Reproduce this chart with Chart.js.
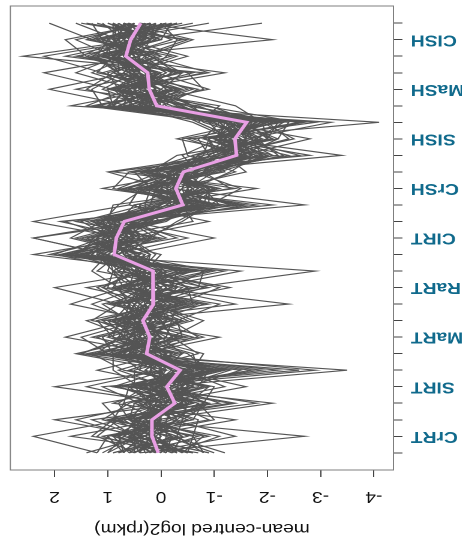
<!DOCTYPE html>
<html>
<head>
<meta charset="utf-8">
<script src="https://cdn.jsdelivr.net/npm/chart.js@4/dist/chart.umd.min.js"></script>
<style>
  html, body { margin: 0; padding: 0; background: #fff; overflow: hidden; }
  #wrap {
    position: absolute; left: 38.5px; top: 0;
    width: 385px; height: 540px;
    /* the reference is drawn upside down and a little stretched sideways */
    transform: scale(-1.2, -1);
    transform-origin: center center;
  }
</style>
</head>
<body>
<div id="wrap"><canvas id="geneChart" width="385" height="540"></canvas></div>
<script>
// tissues, three samples each (27 points per profile)
const tissues = ['CrRT', 'SIRT', 'MaRT', 'RaRT', 'CIRT', 'CrSH', 'SISH', 'MaSH', 'CISH'];
const valueTicks = [-4, -3, -2, -1, 0, 1, 2];

// mean profile (pink)
const meanProfile = [0.05, 0.17, 0.17, -0.26, -0.11, -0.36, 0.27, 0.21, 0.34, 0.14, 0.15, 0.15, 0.88, 0.84, 0.69,
    -0.41, -0.28, -0.42, -1.42, -1.39, -1.61, 0.08, 0.22, 0.25, 0.66, 0.57, 0.38];

// individual gene profiles (grey)
const g01 = [0.5, 1.2, 0.8, -0.6, 0.3, -1.2, 1.1, 0.4, 0.9, -0.2, 0.6, -0.5, 1.6, 1.2, 0.9, -1.1, 0.2, -0.8, -2.3, -1.7, -2.6, 0.9, 0.4, 0.8, 1.3, 0.7, 1.1];
const g02 = [-0.4, -0.8, 0.3, 0.2, -0.6, 0.1, 0.8, -0.3, 0.6, 0.5, -0.2, 0.7, 0.4, 1.5, 0.2, 0.3, -0.9, -0.2, -0.8, -2.1, -1.2, -0.5, 0.9, -0.3, 0.2, 1.3, -0.1];
const g03 = [1.0, 0.4, 1.3, -1.1, -0.2, -0.9, 0.5, 1.2, -0.2, 0.9, 0.3, -0.6, 1.9, 0.6, 1.4, -0.2, -1.1, 0.3, -1.9, -0.8, -2.2, 0.4, -0.4, 1.2, 0.9, 1.6, 0.2];
const g04 = [-0.9, 0.6, -0.5, 0.4, 1.1, -2.6, 1.5, 0.7, 0.1, -0.8, 1.0, 0.9, 1.2, -0.1, 0.6, -1.8, 0.5, -1.2, -0.9, -1.5, -1.0, 1.4, 0.6, -0.6, 1.8, 0.3, 0.9];
const g05 = [0.3, -1.4, -0.2, -0.8, -1.0, 0.6, -0.4, 0.9, 1.2, -0.3, -1.1, 0.4, 2.0, 1.1, 0.3, 0.4, -0.2, -1.6, -1.2, -2.4, -2.0, 0.2, 1.1, 0.5, 0.4, -0.5, 1.4];
const g06 = [1.2, 2.4, 0.7, -1.8, 0.2, -0.3, 0.2, -0.6, 0.5, 1.3, 0.4, -1.0, 0.7, 0.9, 1.8, -0.8, 0.9, 0.6, -2.8, -1.0, -1.9, -0.6, 0.2, 0.9, 0.1, 1.1, -0.4];
const g07 = [-1.2, -0.2, 1.1, 0.6, -0.5, -1.5, 1.4, -0.2, -0.8, 0.2, 0.8, 1.3, 1.0, 2.4, 0.5, -0.1, -0.7, 0.1, -1.6, -0.6, -2.9, 0.7, -0.9, 0.1, 1.0, 0.2, 0.8];
const g08 = [0.6, 0.9, -0.9, -0.2, 0.8, -0.7, -0.6, 0.5, 1.1, -1.4, 0.1, 0.6, 1.4, 0.3, -0.4, -0.9, -1.5, -0.6, -1.1, -1.9, -1.3, 1.1, 1.3, 0.7, 0.5, 0.9, -0.3];
const g09 = [-0.3, 0.1, 0.5, -1.4, 0.4, 0.9, 0.9, 1.1, 0.3, 0.7, -0.6, -2.9, 1.7, 0.8, 1.1, 0.8, 0.3, -0.3, -2.0, -1.2, -0.9, 0.3, 0.5, 1.6, 0.8, -0.2, 0.6];
const g10 = [0.8, -0.5, 0.2, 0.1, -1.6, -0.2, 0.4, -1.1, 0.9, 0.6, 1.2, 0.3, 0.2, 1.0, 1.2, -1.4, 0.1, -0.9, -0.6, -2.2, -2.4, 0.8, -0.2, 0.4, 1.5, 0.8, 1.6];
const g11 = [-0.7, 1.3, 0.9, 0.7, 0.6, -1.1, 0.7, 0.3, -0.4, 0.4, 0.9, -0.2, 2.4, 0.5, 0.8, -0.3, -0.6, -1.3, -1.8, -0.3, -1.7, -0.2, 0.7, -0.8, 2.6, 0.4, 0.1];
const g12 = [0.2, -0.3, -0.4, -0.5, 0.1, -3.5, 1.2, 0.1, 0.7, -0.5, 0.5, 1.0, 0.9, -0.5, 0.9, -2.7, -0.2, 0.4, -1.3, -1.6, -3.2, 1.7, 0.1, 0.2, 0.3, -0.6, 0.7];
const g13 = [1.1, 0.5, 1.6, 0.2, -0.8, 0.3, -0.2, 1.0, -0.1, 0.9, -0.9, 0.8, 1.1, 1.3, -0.1, -0.6, -1.0, -0.1, -2.6, -1.4, -0.7, -1.1, 0.8, 1.0, -0.2, 1.4, 0.5];
const g14 = [-0.5, 0.7, 0.1, -2.1, 0.7, -0.5, 1.5, 0.6, 1.4, -0.1, 0.3, -0.4, 0.5, 0.7, 2.4, 0.6, 0.4, -0.7, -0.4, -1.1, -2.1, 0.5, -0.5, 0.3, 0.7, 0.9, -0.9];
const g15 = [0.4, -2.7, 0.6, 0.8, 0.3, -0.8, 0.6, -0.8, 0.2, 1.7, 0.7, 0.2, 1.5, -0.3, 0.6, 0.1, -1.8, 0.9, -1.5, -2.8, -1.1, 0.1, 0.6, -1.2, 1.1, 0.1, 1.2];
const g16 = [-0.1, 0.3, 2.0, -0.4, -0.3, 1.2, -0.1, 0.8, 0.6, 0.3, -1.3, 0.5, 0.3, 1.6, 0.4, -1.0, 0.7, -0.4, -0.8, -0.9, -2.7, 0.6, 2.1, 0.6, 0.6, 0.5, 0.3];
const g17 = [1.2, 1.0, -0.1, -0.9, 0.9, -2.2, 1.0, 1.5, 0.4, -0.7, 0.6, -0.9, 1.8, 0.2, 1.0, -2.1, 0.6, -0.2, -1.9, -1.7, -1.4, 1.3, -0.3, 0.8, 1.2, 1.0, -0.6];
const g18 = [-0.8, -0.6, -0.7, 0.3, -0.4, 0.4, 0.3, -0.4, 1.3, 0.8, 2.0, 0.1, 0.6, 1.1, -0.6, -0.4, -0.5, -1.0, -0.7, -1.3, -1.8, -0.9, 0.9, 2.2, 0.4, 0.2, 1.0];
const g19 = [0.7, 0.8, 0.4, -0.2, 2.0, -0.1, 1.6, 0.2, 0.8, -2.4, 0.2, 0.6, 1.3, 0.9, 1.5, 0.3, 0.2, 0.5, -2.2, -1.8, -0.8, -0.4, 0.4, 0.6, -0.5, 0.7, 0.6];
const g20 = [-1.0, -0.1, 0.8, 1.1, -0.7, -0.9, -0.5, 0.6, -0.6, 0.1, -0.4, 1.2, 0.8, 1.4, 0.1, -1.3, -0.3, -0.5, -0.9, -0.7, -1.5, 0.9, 1.0, 0.0, 1.4, 1.8, 0.2];
const g21 = [0.2, 0.6, -1.0, -0.7, 0.5, -1.9, 0.9, -0.1, 0.5, 0.6, 0.1, -1.5, 1.9, 0.4, 1.3, -0.7, 0.8, 0.0, -3.4, -1.1, -1.2, 0.4, -0.6, 0.5, 0.9, -0.4, 1.5];
const g22 = [0.9, -0.4, 0.3, -0.6, -0.1, 0.8, -0.3, 1.3, 0.0, 0.5, 1.1, 0.4, 0.1, 0.6, 0.8, 0.5, -1.3, -0.8, -1.0, -2.0, -1.6, -0.3, 0.3, 1.3, 0.6, 1.2, -0.2];
const g23 = [-0.6, 1.7, 0.0, 0.4, -1.2, -0.4, 1.2, -0.5, 1.0, -0.9, 0.7, 0.9, 1.0, 2.4, 0.2, -1.6, 0.3, -1.1, -1.4, -0.5, -4.1, 1.0, 0.0, -0.4, 1.6, 0.0, 0.7];
const g24 = [0.4, 0.2, 0.7, -1.3, 0.6, -2.9, 0.5, 0.8, -0.5, 0.2, -0.8, 0.1, 1.6, 0.0, 1.6, -0.2, -0.8, 0.2, -1.7, -1.5, -1.1, 0.2, 1.4, 0.9, 0.0, 0.6, 0.9];
const g25 = [-0.2, 0.4, -1.4, 0.9, 0.0, 0.2, 0.1, 1.8, 0.6, 1.1, -0.2, -0.3, 0.7, 0.2, -0.3, -0.9, -0.1, 1.0, -1.1, -2.5, -1.9, -1.4, -0.1, 0.2, 1.1, -2.1, 0.4];
const g26 = [0.6, -0.9, 0.5, -0.1, 0.8, -0.6, -0.8, 0.4, 1.2, 0.0, 1.4, -0.7, 2.1, 0.8, 0.5, 0.2, 0.1, -0.3, -1.6, -1.3, -0.6, 0.6, 0.5, -0.1, 0.3, 1.3, 2.1];
const g27 = [-0.4, 0.1, 0.9, -0.5, -0.9, 0.7, 1.3, -0.7, -0.2, 0.4, 0.5, 0.8, 0.4, 1.7, 1.1, -0.5, -0.4, -1.4, -0.5, -0.4, -2.3, 0.0, -0.7, 0.8, 0.8, 0.4, -1.9];
const g28 = [1.4, 0.3, -0.3, 0.5, -0.3, -1.3, 0.6, 0.0, 0.3, -0.6, -0.5, 0.0, 1.2, 0.5, 1.9, -1.2, 1.1, -0.6, -2.4, -1.0, -1.3, 0.5, 0.8, 0.4, 0.6, 0.8, 0.5];
const g29 = [-0.2, -1.1, 0.6, 0.0, 1.4, 0.0, 0.2, 0.9, 0.8, 0.3, 0.0, 0.6, 0.6, -1.0, 0.6, 0.0, -0.6, 0.2, -0.3, -2.1, -1.5, -0.7, 1.6, 0.1, 1.3, 0.0, -0.2];
const g30 = [0.1, 1.1, -0.6, -0.8, -0.4, -0.2, -0.1, 0.4, 0.4, 0.8, -0.7, -0.8, 1.4, 1.0, 0.4, -0.8, -0.9, -0.4, -1.2, -1.2, -2.0, 1.2, -0.2, 0.6, -0.3, 0.9, 0.8];
const g31 = [0.5, 0.0, 0.2, 0.2, 0.2, -1.7, 1.1, 0.3, -0.3, -1.1, 0.8, -0.1, 0.5, 0.7, -0.9, 0.6, 0.4, -0.7, -0.6, -1.6, -1.0, -0.1, 0.2, 1.1, 2.2, 0.3, 0.3];
const g32 = [-0.9, 0.5, 0.4, -0.3, 0.5, 0.5, -0.7, -0.2, 0.0, 0.6, 0.4, -1.2, 1.7, 0.3, 0.7, -0.6, 0.0, -0.9, -1.8, -0.8, -2.6, -0.8, 0.4, -0.2, 0.5, 0.6, 0.6];
const g33 = [0.3, -0.7, 1.0, -0.9, 0.0, -1.0, 0.8, 0.6, 0.1, 0.2, -0.1, 0.3, 0.0, 1.2, 1.0, 0.9, -1.4, 0.6, -1.0, -0.9, -1.7, 0.3, -0.8, -0.5, 0.9, 1.1, 1.3];
const g34 = [0.0, 0.8, -0.2, 0.0, -0.6, -0.6, 0.0, 0.5, 0.9, -0.4, 0.9, 0.7, 0.8, 0.1, 1.3, -0.4, 0.6, -0.1, -1.5, -2.2, -1.4, 0.8, 0.1, 0.3, -0.1, -0.3, 0.0];
const g35 = [-0.3, 0.2, -0.5, 0.5, -0.2, 0.1, 0.5, -0.3, 0.7, 0.5, 0.2, 0.5, 1.3, 0.9, 0.0, -1.1, -0.8, 0.3, -1.3, -1.4, -0.7, 0.0, 0.9, -0.9, 0.2, 0.7, 0.9];
const g36 = [0.7, 0.4, 0.1, -0.4, 0.3, -0.5, 0.4, 0.1, -0.1, 0.0, -0.3, 0.2, 0.9, 0.4, 0.6, 0.0, -0.2, -0.5, -1.4, -1.3, -1.6, 0.1, 0.3, 0.5, 0.7, 0.5, 0.4];
const g37 = [-0.1, -0.2, 0.3, 0.1, -0.2, 0.0, 0.0, 0.2, 0.5, 0.3, 0.4, 0.9, 0.2, 0.6, 0.3, -0.7, 0.2, -0.2, -0.7, -1.7, -1.2, 0.7, 0.6, 0.2, 1.0, 0.1, 0.2];
const g38 = [0.2, 0.0, 0.4, -0.6, 0.4, -0.3, 0.7, 0.4, 0.2, -0.2, 0.6, -0.3, 1.1, 0.6, 0.9, -0.3, -0.5, -0.8, -1.7, -1.0, -1.8, 0.4, 0.2, 0.4, 0.4, 0.8, 0.7];
const g39 = [-0.5, 0.3, -0.3, -0.1, -0.4, -0.8, 0.9, 0.0, 0.4, 0.1, 0.3, 0.4, 0.6, 1.0, 0.2, -0.2, -0.6, -0.1, -1.1, -0.9, -2.2, -0.5, 0.4, 0.1, 0.6, 0.2, 0.1];
const g40 = [0.4, 0.6, 0.0, 0.3, 0.1, -0.6, 0.1, 0.7, 0.6, 0.4, -0.1, 0.1, 0.8, 1.1, 0.7, -0.5, 0.3, -0.6, -1.5, -1.6, -1.3, 0.3, 0.0, 0.6, 0.9, 0.6, 0.3];
const g41 = [0.9, -0.3, 0.6, 0.3, -0.9, 0.2, -0.2, 0.7, 1.0, -0.5, 0.9, -0.4, 1.5, 0.3, 1.2, 0.2, -1.0, 0.3, -0.8, -2.0, -2.2, 0.6, -0.3, 0.9, 0.2, 1.2, -0.1];
const g42 = [-0.6, 0.9, -0.4, -0.9, 0.5, -1.0, 0.9, -0.4, -0.3, 0.8, -0.3, 0.9, 0.4, 1.3, 0.1, -1.0, 0.4, -1.0, -2.0, -0.8, -1.1, -0.4, 0.8, -0.3, 1.2, 0.0, 1.0];
const g43 = [0.5, 0.5, 1.0, -0.1, 0.1, -1.2, 0.0, 1.0, 0.7, 0.6, 0.8, -0.6, 1.0, 0.5, 0.9, -0.9, -0.9, 0.2, -1.3, -2.0, -1.9, 1.0, 0.6, -0.1, 0.5, 0.9, 0.9];
const g44 = [-0.2, -0.4, 0.1, 0.7, -0.6, 0.4, 0.8, -0.1, -0.2, -0.3, 0.6, 0.5, 1.7, 1.0, 0.2, -0.2, 0.1, -0.9, -1.7, -1.1, -1.7, -0.2, 0.5, 0.8, 1.0, 0.2, 0.0];
const g45 = [0.6, 0.1, -0.3, -0.7, 0.9, -0.1, 0.6, 0.5, 0.0, 0.3, -0.5, 0.4, 0.7, 0.2, 1.1, 0.0, -0.4, -0.6, -1.1, -1.8, -1.4, 0.5, 0.9, 0.4, 0.9, 0.3, 0.6];
const g46 = [-0.3, 0.7, 0.5, -0.4, -0.4, -0.6, 1.0, 0.0, 0.8, -0.2, 0.4, 0.0, 1.2, 1.2, 0.4, -0.6, 0.5, -0.4, -1.6, -1.2, -1.9, 0.2, -0.2, 0.6, 0.4, 1.0, 0.5];
const g47 = [0.3, 0.4, 0.0, 0.0, 0.3, -0.9, 0.5, 0.6, 0.4, 0.5, 0.1, 0.6, 1.0, 0.6, 0.9, -0.3, -0.1, -0.8, -1.2, -1.6, -1.5, 0.2, 0.4, 0.1, 0.8, 0.6, 0.3];
const g48 = [-0.1, 0.9, 0.3, -0.2, -0.1, 0.3, -0.1, 0.3, 0.6, -0.1, 0.5, 0.3, 0.5, 0.8, 1.0, -0.8, -0.6, -0.1, -1.5, -1.0, -1.4, 0.0, 0.1, 0.5, 0.6, 0.4, 0.8];
const g49 = [0.8, 0.2, 0.6, -0.5, 0.2, -0.2, 0.4, -0.2, 0.0, 0.2, 0.3, -0.1, 0.9, 0.7, 0.5, -0.5, -0.3, -0.3, -1.9, -1.3, -1.8, 0.4, 0.5, 0.0, 1.1, 0.8, 0.2];
const g50 = [0.0, -0.1, -0.1, -0.3, 0.0, 0.0, 0.6, 0.4, 0.1, 0.4, 0.0, 0.5, 0.8, 1.0, 0.6, -0.1, -0.4, -0.5, -1.4, -1.5, -1.2, -0.3, 0.2, 0.7, 0.3, 0.7, 0.5];
const g51 = [0.2, 0.5, 0.5, -0.8, -0.3, -0.4, 0.2, 0.0, 0.7, 0.0, 0.2, 0.0, 1.1, 0.5, 0.8, -0.4, 0.0, -0.2, -1.2, -1.1, -1.9, 0.2, 0.3, 0.4, 0.5, 0.6, 0.6];
const g52 = [-0.4, 0.3, 0.0, 0.2, 0.5, -0.7, 0.3, 0.5, 0.2, 0.1, 0.7, 0.1, 0.6, 1.1, 0.9, -0.7, -0.5, -0.4, -1.6, -1.4, -1.1, 0.6, -0.1, 0.3, 0.8, 0.3, 0.2];
const g53 = [0.5, -0.2, 0.2, -0.1, -0.5, -0.3, 0.5, 0.3, 0.5, 0.6, 0.3, 0.3, 0.9, 0.6, 0.3, -0.2, -0.7, -0.6, -1.3, -1.6, -1.7, 0.1, 0.6, 0.2, 0.6, 0.9, 0.1];
const g54 = [0.1, 0.1, 0.4, -0.4, 0.2, -0.1, 0.1, 0.2, 0.3, -0.3, 0.1, 0.2, 1.3, 0.9, 0.7, -0.6, -0.2, -0.7, -1.5, -1.2, -1.4, 0.3, 0.1, 0.4, 0.7, 0.5, 0.7];
const g55 = [-0.2, 0.6, -0.2, 0.1, -0.2, -0.5, 0.7, 0.1, 0.2, 0.3, 0.0, 0.4, 0.8, 0.4, 1.0, -0.3, -0.3, -0.1, -1.0, -1.7, -1.6, 0.0, 0.3, 0.1, 0.9, 0.4, 0.4];
const g56 = [0.4, 0.2, 0.1, -0.2, 0.0, -0.8, 0.2, 0.5, 0.5, 0.2, 0.4, 0.1, 0.7, 0.8, 0.5, -0.4, -0.1, -0.3, -1.7, -1.1, -1.6, 0.4, 0.2, 0.3, 0.5, 0.7, 0.3];
const g57 = [1.0, 0.7, 0.2, -0.5, 0.4, -1.1, 0.8, -0.3, 0.6, -0.6, 0.7, -0.5, 1.4, 0.7, 1.3, -1.5, 0.2, -1.1, -2.1, -1.0, -2.0, 0.9, 0.7, 0.0, 1.1, 0.2, 0.9];
const g58 = [-0.8, -0.3, 0.6, 0.5, -0.8, 0.6, -0.3, 0.8, -0.4, 1.0, -0.6, 0.8, 0.3, 1.4, 0.0, 0.5, -1.1, 0.4, -0.6, -1.9, -0.9, -0.6, 0.0, 1.1, 0.0, 1.1, -0.3];
const g59 = [0.7, 1.0, -0.6, 0.2, 0.6, -0.5, 1.2, 0.8, -0.2, 0.9, -0.2, -0.8, 1.8, 0.1, 0.6, -0.9, 0.7, -0.9, -2.1, -1.5, -1.0, 1.2, -0.4, 0.6, 1.4, 0.5, -0.2];
const g60 = [-0.5, -0.6, 0.9, -0.6, 0.1, 0.0, -0.4, 0.0, 1.0, -0.4, 1.1, 0.5, 0.2, 0.9, 1.1, 0.1, -0.8, 0.1, -1.0, -1.8, -2.3, -0.5, 1.0, -0.4, 0.2, 1.3, 0.6];

const geneProfiles = [g01, g02, g03, g04, g05, g06, g07, g08, g09, g10, g11, g12, g13, g14, g15, g16, g17, g18, g19, g20,
    g21, g22, g23, g24, g25, g26, g27, g28, g29, g30, g31, g32, g33, g34, g35, g36, g37, g38, g39, g40,
    g41, g42, g43, g44, g45, g46, g47, g48, g49, g50, g51, g52, g53, g54, g55, g56, g57, g58, g59, g60];

const nSamples = meanProfile.length;
const toPoints = values => values.map((v, i) => ({ x: v, y: i }));

// mean goes first with the lowest order so it is drawn on top
const datasets = [{
    data: toPoints(meanProfile),
    borderColor: '#e89fe4',
    borderWidth: 3,
    pointRadius: 0,
    order: 0
}];
geneProfiles.forEach(p => datasets.push({
    data: toPoints(p),
    borderColor: '#555555',
    borderWidth: 1.15,
    pointRadius: 0,
    order: 1
}));

// R-style box round the plot region
const boxPlugin = {
    id: 'box',
    afterDraw(chart) {
        const a = chart.chartArea;
        const ctx = chart.ctx;
        ctx.save();
        ctx.strokeStyle = '#7f7f7f';
        ctx.lineWidth = 1;
        ctx.strokeRect(a.left, a.top, a.right - a.left, a.bottom - a.top);
        ctx.restore();
    }
};

const font = 'Liberation Sans, Arial, Helvetica, sans-serif';

new Chart(document.getElementById('geneChart'), {
    type: 'scatter',
    data: { datasets: datasets },
    options: {
        responsive: false,
        animation: false,
        devicePixelRatio: 2,
        showLine: true,
        layout: { padding: { left: 0, top: 0, right: 8.3, bottom: 6 } },
        plugins: { legend: { display: false }, tooltip: { enabled: false } },
        scales: {
            x: {
                type: 'linear',
                position: 'top',
                min: -4.37,
                max: 2.83,
                afterBuildTicks: axis => { axis.ticks = valueTicks.map(v => ({ value: v })); },
                afterFit: axis => {
                    axis.height = 70;
                    axis.paddingLeft = 0;
                    axis.paddingRight = 0;
                },
                ticks: {
                    font: { family: font, size: 16 },
                    color: '#111',
                    padding: 10,
                    maxRotation: 0,
                    minRotation: 0
                },
                grid: { drawOnChartArea: false, tickLength: 7, color: '#444' },
                border: { color: '#7f7f7f' },
                title: {
                    display: true,
                    text: 'mean-centred log2(rpkm)',
                    font: { family: font, size: 16 },
                    color: '#111',
                    padding: { top: 2, bottom: 0 }
                }
            },
            y: {
                type: 'linear',
                reverse: true,
                min: -1.04,
                max: nSamples - 1 + 1.04,
                afterBuildTicks: axis => {
                    axis.ticks = meanProfile.map((_, i) => ({ value: i }));
                },
                afterFit: axis => {
                    axis.width = 57.5;
                    axis.paddingTop = 0;
                    axis.paddingBottom = 0;
                },
                ticks: {
                    autoSkip: false,
                    maxRotation: 0,
                    minRotation: 0,
                    padding: 7,
                    font: { family: font, size: 16, weight: 'bold' },
                    color: '#106a8c',
                    callback: v => (v % 3 === 1 ? tissues[(v - 1) / 3] : '')
                },
                grid: { drawOnChartArea: false, tickLength: 7.5, color: '#444' },
                border: { color: '#7f7f7f' }
            }
        }
    },
    plugins: [boxPlugin]
});
</script>
</body>
</html>
